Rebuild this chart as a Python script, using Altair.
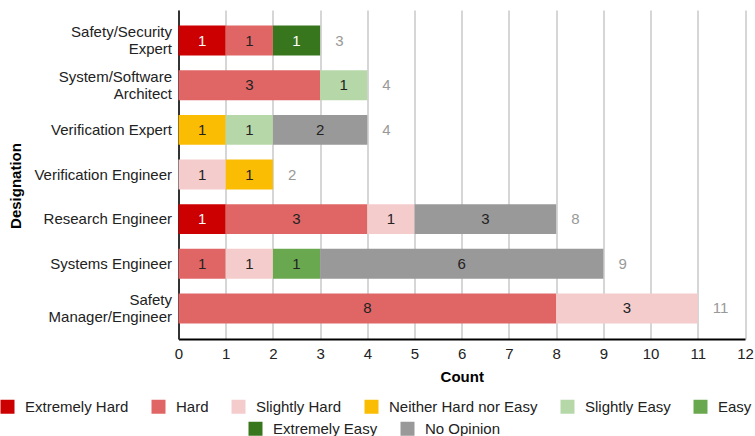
import altair as alt
import pandas as pd

# Job designations, top to bottom
designations = [
    "Safety/Security\nExpert",
    "System/Software\nArchitect",
    "Verification Expert",
    "Verification Engineer",
    "Research Engineer",
    "Systems Engineer",
    "Safety\nManager/Engineer",
]

# Difficulty ratings and their colours
ratings = [
    "Extremely Hard", "Hard", "Slightly Hard", "Neither Hard nor Easy",
    "Slightly Easy", "Easy", "Extremely Easy", "No Opinion",
]
colors = [
    "#cc0000", "#e06666", "#f4cccc", "#fbbc04",
    "#b6d7a8", "#6aa84f", "#38761d", "#999999",
]

# Responses per designation, one value per rating (same order as ratings)
counts = {
    "Safety/Security\nExpert":   [1, 1, 0, 0, 0, 0, 1, 0],
    "System/Software\nArchitect": [0, 3, 0, 0, 1, 0, 0, 0],
    "Verification Expert":       [0, 0, 0, 1, 1, 0, 0, 2],
    "Verification Engineer":     [0, 0, 1, 1, 0, 0, 0, 0],
    "Research Engineer":         [1, 3, 1, 0, 0, 0, 0, 3],
    "Systems Engineer":          [0, 1, 1, 0, 0, 1, 0, 6],
    "Safety\nManager/Engineer":  [0, 8, 3, 0, 0, 0, 0, 0],
}

rows = []
for d in designations:
    for i, (r, c) in enumerate(zip(ratings, counts[d])):
        if c > 0:
            rows.append({"designation": d, "rating": r, "order": i, "count": c})
df = pd.DataFrame(rows)

FONT = "Liberation Sans"
first_row = ratings[:6]
second_row = ratings[6:]

y_enc = alt.Y(
    "designation:N",
    sort=designations,
    title="Designation",
    scale=alt.Scale(paddingInner=0.33, paddingOuter=0.35),
    axis=alt.Axis(
        labelExpr="split(datum.label, '\\n')",
        labelLineHeight=17,
        # two-line labels are lifted so the block sits centred on the bar
        labelOffset={
            "condition": {"test": "indexof(datum.value, '\\n') >= 0", "value": -8.5},
            "value": 0,
        },
        labelPadding=7,
        ticks=False,
        domainColor="#333333",
        domainWidth=2,
        titleFontWeight="bold",
        titlePadding=10,
        titleY=175.5,
    ),
)

x_axis = alt.Axis(
    values=list(range(13)),
    grid=True,
    gridColor="#cccccc",
    gridWidth=1.6,
    ticks=False,
    labelFlush=False,
    domainColor="#000000",
    domainWidth=2,
    labelPadding=7,
    titleFontWeight="bold",
    titlePadding=8,
)
x_scale = alt.Scale(domain=[0, 12], nice=False)

stacked = alt.Chart(df).transform_stack(
    stack="count",
    groupby=["designation"],
    sort=[alt.SortField("order", order="ascending")],
    as_=["x0", "x1"],
)

bars_a = stacked.transform_filter(alt.datum.order < 6).mark_bar().encode(
    x=alt.X("x0:Q", title="Count", scale=x_scale, axis=x_axis),
    x2="x1:Q",
    y=y_enc,
    color=alt.Color(
        "rating:N",
        scale=alt.Scale(domain=first_row, range=colors[:6]),
        legend=alt.Legend(
            title=None, orient="none", direction="horizontal",
            legendX=-178.5, legendY=389,
            symbolType="square", symbolSize=196, symbolStrokeWidth=0,
            labelOffset=10, columnPadding=22,
        ),
    ),
)

bars_b = stacked.transform_filter(alt.datum.order >= 6).mark_bar().encode(
    x=alt.X("x0:Q", scale=x_scale),
    x2="x1:Q",
    y=alt.Y("designation:N", sort=designations),
    color=alt.Color(
        "rating:N",
        scale=alt.Scale(domain=second_row, range=colors[6:]),
        legend=alt.Legend(
            title=None, orient="none", direction="horizontal",
            legendX=69.5, legendY=411,
            symbolType="square", symbolSize=196, symbolStrokeWidth=0,
            labelOffset=10, columnPadding=22,
        ),
    ),
)

inner_labels = stacked.transform_calculate(
    mid="(datum.x0 + datum.x1) / 2"
).mark_text(fontSize=15, font=FONT).encode(
    x=alt.X("mid:Q", scale=x_scale),
    y=alt.Y("designation:N", sort=designations),
    text="count:Q",
    color=alt.condition(
        "datum.rating == 'Extremely Hard' || datum.rating == 'Extremely Easy'",
        alt.value("#ffffff"),
        alt.value("#222222"),
    ),
)

totals = alt.Chart(df).transform_aggregate(
    total="sum(count)", groupby=["designation"]
).mark_text(fontSize=15, font=FONT, align="left", dx=15, color="#999999").encode(
    x=alt.X("total:Q", scale=x_scale),
    y=alt.Y("designation:N", sort=designations),
    text="total:Q",
)

chart = (
    alt.layer(bars_a, bars_b, inner_labels, totals)
    .resolve_scale(color="independent")
    .properties(
        width=566.5,
        height=329,
        padding={"left": 178.5, "top": 10, "right": 10, "bottom": 97},
        autosize=alt.AutoSizeParams(type="none"),
    )
    .configure_view(stroke=None)
    .configure_axis(
        labelFont=FONT, titleFont=FONT, labelFontSize=15, titleFontSize=15,
        labelColor="#222222", titleColor="#000000",
    )
    .configure_legend(labelFont=FONT, labelFontSize=15, labelColor="#222222")
)

chart.save("out.html", embed_options={"renderer": "svg", "actions": False})
